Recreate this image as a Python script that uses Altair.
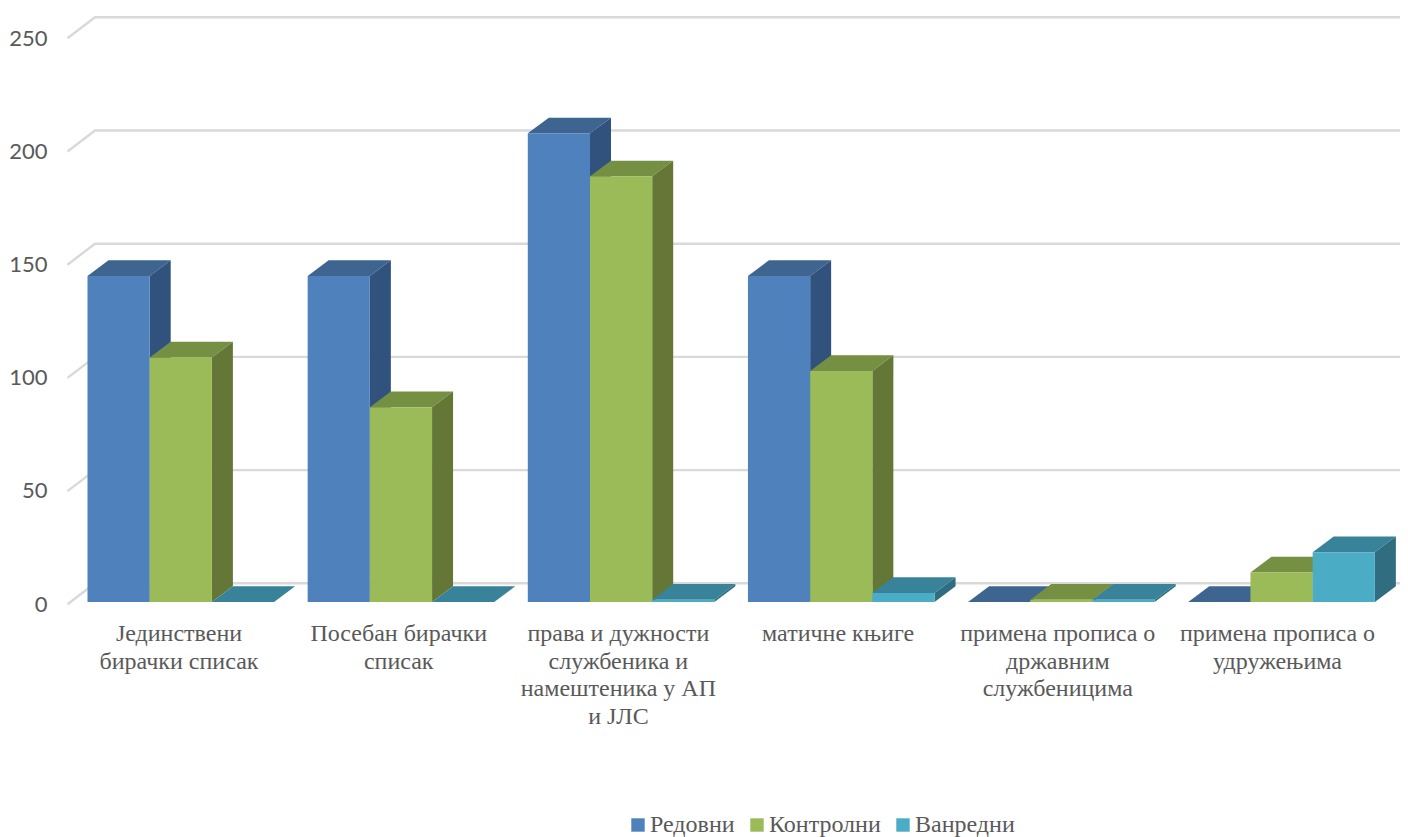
import altair as alt
import pandas as pd

categories = [
    "Јединствени\nбирачки списак",
    "Посебан бирачки\nсписак",
    "права и дужности\nслужбеника и\nнамештеника у АП\nи ЈЛС",
    "матичне књиге",
    "примена прописа о\nдржавним\nслужбеницима",
    "примена прописа о\nудружењима",
]
series = ["Редовни", "Контролни", "Ванредни"]
redovni = [144, 144, 207, 144, 0, 0]
kontrolni = [108, 86, 188, 102, 1, 13]
vanredni = [0, 0, 1, 4, 1, 22]
values = [redovni, kontrolni, vanredni]
y_ticks = [0, 50, 100, 150, 200, 250]

front_colors = ["#4F81BD", "#9BBB59", "#4BACC6"]
top_colors = ["#3E6490", "#769043", "#388399"]
side_colors = ["#30527C", "#647736", "#306D80"]
grid_color = "#D9D9D9"
text_color = "#595959"

# scale geometry
X0, X1 = 47, 1400
W, H = X1 - X0, 594
PX_PER_UNIT = 2.264
Y_MAX = H / PX_PER_UNIT
x_scale = alt.Scale(domain=[X0, X1], nice=False, zero=False)
y_scale = alt.Scale(domain=[0, Y_MAX], nice=False, zero=False)
y_axis = alt.Axis(
    values=y_ticks, title=None, grid=False, domain=False, ticks=False, labelPadding=0,
    labelFont="Lato", labelFontSize=22, labelColor=text_color, format="d", labelOffset=2,
)

GROUP_START, GROUP_STEP, BAR_W = 87.5, 220.15, 62.2
DEPTH_X, DEPTH_Y = 21, 15.7 / PX_PER_UNIT
WALL_Y = 18.7 / PX_PER_UNIT
FRONT_Y = -2.3 / PX_PER_UNIT
LABEL_START, LABEL_STEP = 179, 219.7

fronts, tops, sides = [], [], []
for s, vals in enumerate(values):
    for g, v in enumerate(vals):
        a = GROUP_START + g * GROUP_STEP + s * BAR_W
        b = a + BAR_W
        fronts.append(dict(s=series[s], g=g, a=a, b=b, v=v, base=0))
        for x, lo, hi in [(a, v, v), (a + DEPTH_X, v, v + DEPTH_Y), (b, v, v + DEPTH_Y),
                          (b + DEPTH_X, v + DEPTH_Y, v + DEPTH_Y)]:
            tops.append(dict(s=series[s], g=g, x=x, lo=lo, hi=hi))
        for x, lo, hi in [(b, 0, v), (b + DEPTH_X, DEPTH_Y, v + DEPTH_Y)]:
            sides.append(dict(s=series[s], g=g, x=x, lo=lo, hi=hi))
fronts, tops, sides = map(pd.DataFrame, (fronts, tops, sides))

grid = []
for t in y_ticks:
    grid += [dict(t=t, i=0, x=67.5, y=t + FRONT_Y),
             dict(t=t, i=1, x=95, y=t + WALL_Y),
             dict(t=t, i=2, x=X1, y=t + WALL_Y)]
grid = pd.DataFrame(grid)

labels = pd.DataFrame({
    "label": categories,
    "x": [LABEL_START + i * LABEL_STEP for i in range(len(categories))],
})

grid_layer = alt.Chart(grid).mark_line(color=grid_color, strokeWidth=2.4).encode(
    x=alt.X("x:Q", scale=x_scale, axis=None),
    y=alt.Y("y:Q", scale=y_scale, axis=y_axis),
    detail="t:N", order="i:Q",
)

layers = [grid_layer]
legend = alt.Legend(
    title=None, orient="none", direction="horizontal", legendX=579, legendY=805,
    symbolType="square", symbolSize=180, symbolStrokeWidth=0, labelFont="Liberation Serif",
    labelFontSize=24, labelColor=text_color, columnPadding=10, labelOffset=0, padding=0,
)
for i, name in enumerate(series):
    top = alt.Chart(tops[tops.s == name]).mark_area(color=top_colors[i], opacity=1).encode(
        x=alt.X("x:Q", scale=x_scale, axis=None),
        y=alt.Y("lo:Q", scale=y_scale, axis=y_axis),
        y2="hi:Q", detail="g:N",
    )
    side = alt.Chart(sides[sides.s == name]).mark_area(color=side_colors[i], opacity=1).encode(
        x=alt.X("x:Q", scale=x_scale, axis=None),
        y=alt.Y("lo:Q", scale=y_scale, axis=y_axis),
        y2="hi:Q", detail="g:N",
    )
    front = alt.Chart(fronts[fronts.s == name]).mark_rect(opacity=1).encode(
        x=alt.X("a:Q", scale=x_scale, axis=None),
        x2="b:Q",
        y=alt.Y("v:Q", scale=y_scale, axis=y_axis),
        y2="base:Q",
        color=alt.Color("s:N", scale=alt.Scale(domain=series, range=front_colors), legend=legend),
    )
    layers += [top, side, front]

label_layer = alt.Chart(labels).mark_text(
    font="Liberation Serif", fontSize=24, color=text_color, lineBreak="\n", lineHeight=27.7,
    align="center", baseline="top",
).encode(
    x=alt.X("x:Q", scale=x_scale, axis=None),
    y=alt.value(H + 20),
    text="label:N",
)
layers.append(label_layer)

chart = alt.layer(*layers).resolve_scale(color="shared").properties(
    width=W, height=H,
    autosize="none",
    padding={"left": X0 - 8, "top": 0, "right": 0, "bottom": 829 - H},
    background="white",
).configure_view(stroke=None)

chart.save("out.html", embed_options={"renderer": "svg", "actions": False})
